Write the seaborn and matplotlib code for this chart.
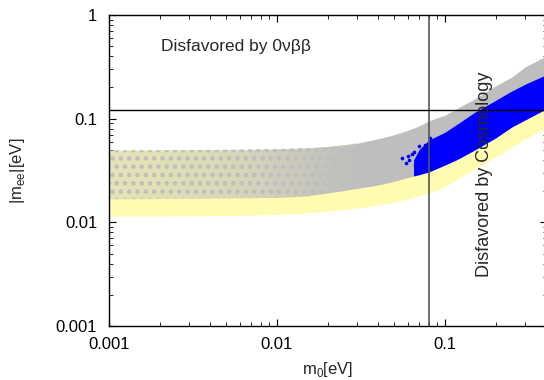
import matplotlib
matplotlib.use("Agg")

import numpy as np
import matplotlib.pyplot as plt
import matplotlib.colors as mcolors
import seaborn as sns

# ---------------------------------------------------------------------------
# Data (m0 in eV, |m_ee| in eV)
# ---------------------------------------------------------------------------
m0 = [0.001, 0.002, 0.005, 0.01, 0.015, 0.02, 0.03, 0.04, 0.05, 0.06, 0.07,
      0.08, 0.1, 0.12, 0.15, 0.2, 0.25, 0.3, 0.4]
band_top = [0.0495, 0.0497, 0.0502, 0.051, 0.0522, 0.054, 0.058, 0.064, 0.070,
            0.077, 0.085, 0.095, 0.108, 0.127, 0.155, 0.207, 0.252, 0.315, 0.402]
gray_low = [0.0168, 0.0170, 0.0172, 0.0174, 0.0180, 0.0192, 0.0213, 0.0229,
            0.0249, 0.0271, 0.0288, 0.0306, 0.0357, 0.0409, 0.0498, 0.0651,
            0.0832, 0.0972, 0.124]
yellow_low = [0.0115, 0.0115, 0.0116, 0.0119, 0.0123, 0.0129, 0.0137, 0.0147,
              0.0157, 0.0168, 0.0179, 0.0192, 0.0220, 0.0263, 0.0327, 0.0427,
              0.0534, 0.0637, 0.0815]

# blue points region
blue_m0 = [0.065, 0.07, 0.08, 0.1, 0.12, 0.15, 0.2, 0.25, 0.3, 0.4]
blue_low = [0.0280, 0.0288, 0.0306, 0.0357, 0.0409, 0.0498, 0.0651, 0.0832,
            0.0972, 0.124]
blue_top = [0.040, 0.050, 0.062, 0.074, 0.090, 0.115, 0.150, 0.185, 0.215, 0.265]

# loose blue points at the leading edge of the blue region
blue_pts_m0 = [0.0553, 0.0605, 0.0614, 0.0662, 0.0672, 0.0693, 0.0726, 0.0742,
               0.0585, 0.0640, 0.0760, 0.0820, 0.0700, 0.0650]
blue_pts_m = [0.0415, 0.0437, 0.0400, 0.0358, 0.0333, 0.0385, 0.0499, 0.0430,
              0.0372, 0.0452, 0.0560, 0.0650, 0.0540, 0.0480]

# sparse part of the gray scatter: share of gray over yellow at these m0
cover_m0 = [0.001, 0.002, 0.004, 0.007, 0.01, 0.015, 0.02, 0.03]
cover = [0.40, 0.45, 0.55, 0.65, 0.75, 0.85, 0.92, 1.0]

cosmo_m0 = 0.08
obb_mee = 0.12

YELLOW = "#fffbb0"
GRAY = "#bebebe"
BLUE = "#0000ff"

sns.set_theme(style="ticks")
plt.rcParams["font.family"] = ["Liberation Sans", "DejaVu Sans"]
plt.rcParams["hatch.linewidth"] = 2.0

fig = plt.figure(figsize=(5.44, 3.80), dpi=100)
ax = fig.add_axes([109 / 544, 54 / 380, 438 / 544, 311 / 380])

m0a = np.array(m0)
top = np.array(band_top)
glow = np.array(gray_low)
yel = np.array(mcolors.to_rgb(YELLOW))
gry = np.array(mcolors.to_rgb(GRAY))


def band_part(a, b):
    sel = (m0a > a) & (m0a < b)
    xs = np.concatenate([[a], m0a[sel], [b]])
    return xs, np.interp(xs, m0a, glow), np.interp(xs, m0a, top)


# yellow band
ax.fill_between(m0, yellow_low, band_top, color=YELLOW, lw=0)

# gray scatter: thin near small m0 (mixed with yellow), solid beyond
steps = np.geomspace(cover_m0[0], cover_m0[-1], 40)
for a, b in zip(steps[:-1], steps[1:]):
    f = np.interp(np.log10(np.sqrt(a * b)), np.log10(cover_m0), cover)
    xs, lo, hi = band_part(a, b * 1.01)
    ax.fill_between(xs, lo, hi, color=yel + f * (gry - yel), lw=0,
                    antialiased=False)
xs, lo, hi = band_part(cover_m0[-1], m0[-1])
ax.fill_between(xs, lo, hi, color=GRAY, lw=0)
# dotted texture of the individual gray points, fading into the solid part
xs, lo, hi = band_part(m0[0], cover_m0[-1])
ax.fill_between(xs, lo, hi, facecolor="none", edgecolor=GRAY, hatch="..", lw=0)

# blue region
ax.fill_between(blue_m0, blue_low, blue_top, color=BLUE, lw=0)
sns.scatterplot(x=blue_pts_m0, y=blue_pts_m, color=BLUE, s=7, lw=0, ax=ax)

# limits
ax.axvline(cosmo_m0, color="#555555", lw=1.2)
ax.axhline(obb_mee, color="black", lw=1.0)

ax.set_xscale("log")
ax.set_yscale("log")
ax.set_xlim(0.001, 0.405)
ax.set_ylim(0.001, 1)
ax.set_xticks([0.001, 0.01, 0.1])
ax.set_xticklabels(["0.001", "0.01", "0.1"])
ax.set_yticks([0.001, 0.01, 0.1, 1])
ax.set_yticklabels(["0.001", "0.01", "0.1", "1"])

ax.tick_params(which="both", direction="in", top=True, right=True,
               colors="black", labelsize=12)
ax.tick_params(which="major", length=5, width=0.8)
ax.tick_params(axis="x", which="major", pad=8)
ax.tick_params(axis="y", which="major", pad=8.5)
ax.tick_params(which="minor", length=3, width=0.6)
for s in ax.spines.values():
    s.set_color("black")
    s.set_linewidth(1.0)

ax.set_xlabel("m$_\\mathregular{0}$[eV]", fontsize=12, labelpad=6)
ax.set_ylabel("|m$_\\mathregular{ee}$|[eV]", fontsize=12, labelpad=21)

ax.text(0.00204, 0.45, "Disfavored by 0νββ", fontsize=12.5, ha="left", va="baseline")
ax.text(0.173, 0.00297, "Disfavored by Cosmology", fontsize=13, rotation=90,
        ha="center", va="bottom")

fig.savefig("out.png", dpi=100)
